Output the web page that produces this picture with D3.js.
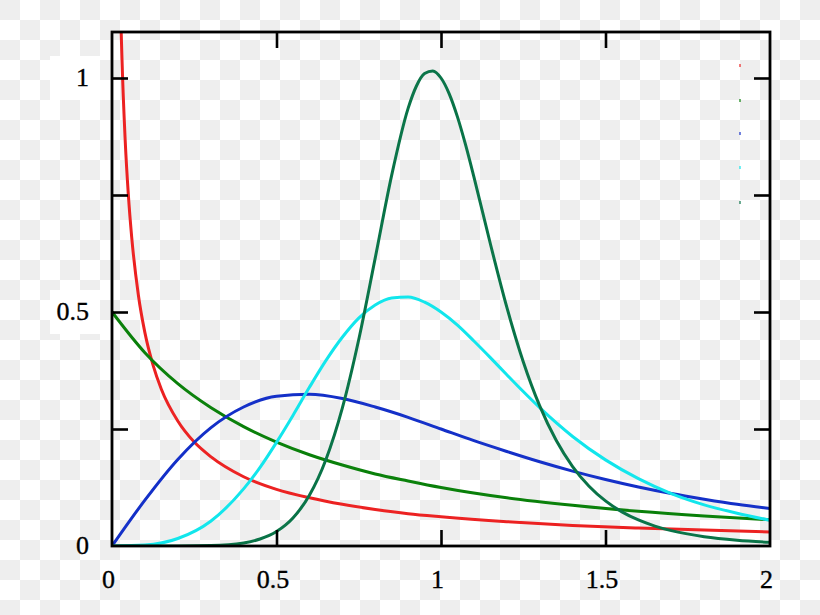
<!DOCTYPE html>
<html><head><meta charset="utf-8">
<script src="https://cdn.jsdelivr.net/npm/d3@7"></script>
<style>html,body{margin:0;padding:0;background:#fff;}svg{display:block;}
text.lbl{font-family:"Liberation Serif","Times New Roman",Times,"DejaVu Serif",serif;font-size:26px;fill:#000;stroke:#000;stroke-width:0.35px;}</style>
</head><body>
<script>
// ---- data ----
const redX   = [0.01,0.02,0.03,0.04,0.05,0.06,0.08,0.1,0.125,0.15,0.2,0.25,0.3,0.4,0.5,0.6,0.7,0.8,0.9,1.0,1.2,1.4,1.6,1.8,2.0];
const redY   = [2.066,1.357,1.049,0.868,0.747,0.659,0.537,0.456,0.386,0.335,0.267,0.222,0.191,0.148,0.121,0.103,0.089,0.078,0.069,0.0625,0.052,0.044,0.0385,0.034,0.030];
const greenX = [0,0.1,0.2,0.3,0.4,0.5,0.6,0.7,0.8,0.9,1.0,1.2,1.4,1.6,1.8,2.0];
const greenY = [0.5,0.413,0.347,0.296,0.255,0.222,0.195,0.173,0.154,0.139,0.125,0.103,0.087,0.074,0.064,0.056];
const blueX  = [0,0.05,0.1,0.2,0.3,0.4,0.5,0.6,0.7,0.8,0.9,1.0,1.1,1.2,1.3,1.4,1.5,1.6,1.7,1.8,1.9,2.0];
const blueY  = [0,0.050,0.098,0.185,0.2525,0.297,0.320,0.324,0.315,0.297,0.275,0.250,0.225,0.202,0.180,0.160,0.142,0.126,0.112,0.100,0.089,0.080];
const cyanX  = [0,0.1,0.2,0.3,0.4,0.45,0.5,0.55,0.6,0.65,0.7,0.75,0.8,0.85,0.9,0.95,1.0,1.05,1.1,1.15,1.2,1.25,1.3,1.4,1.5,1.6,1.7,1.8,1.9,2.0];
const cyanY  = [0,0.002,0.016,0.053,0.122,0.168,0.2215,0.279,0.339,0.396,0.446,0.487,0.515,0.530,0.532,0.521,0.500,0.472,0.438,0.4025,0.366,0.330,0.2955,0.234,0.184,0.144,0.112,0.088,0.070,0.055];
const dgreenX = [0,0.2,0.3,0.4,0.45,0.5,0.55,0.6,0.65,0.7,0.75,0.8,0.85,0.9,0.925,0.95,0.975,1.0,1.025,1.05,1.075,1.1,1.15,1.2,1.25,1.3,1.35,1.4,1.45,1.5,1.55,1.6,1.65,1.7,1.8,1.9,2.0];
const dgreenY = [0,0.00005,0.0009,0.0065,0.0149,0.0310,0.0599,0.1083,0.1842,0.2945,0.4412,0.6151,0.7919,0.9350,0.9824,1.0095,1.0152,1.0,0.9662,0.9170,0.8565,0.7888,0.6458,0.5103,0.3937,0.2993,0.2258,0.1698,0.1278,0.0964,0.0730,0.0556,0.0426,0.0328,0.0198,0.0123,0.0078];

const xTicks = [0, 0.5, 1, 1.5, 2];
const xTickLabels = ["0", "0.5", "1", "1.5", "2"];
const yTicks = [0, 0.25, 0.5, 0.75, 1];
const yTickLabels = ["0", "", "0.5", "", "1"];

const series = [
  {name:"red",    xs:redX,    ys:redY,    color:"#ec2222"},
  {name:"green",  xs:greenX,  ys:greenY,  color:"#0a800a"},
  {name:"blue",   xs:blueX,   ys:blueY,   color:"#1430c8"},
  {name:"cyan",   xs:cyanX,   ys:cyanY,   color:"#12e6ec"},
  {name:"dgreen", xs:dgreenX, ys:dgreenY, color:"#0a7448"}
];

// ---- drawing ----
const W = 820, H = 615;
const L = 112, R = 770, T = 32, B = 546;
const svg = d3.select("body").append("svg").attr("width", W).attr("height", H);

// checkerboard background (transparency pattern)
const defs = svg.append("defs");
const pat = defs.append("pattern").attr("id","chk").attr("width",40).attr("height",40)
  .attr("patternUnits","userSpaceOnUse");
pat.append("rect").attr("width",40).attr("height",40).attr("fill","#ffffff");
pat.append("rect").attr("x",0).attr("y",0).attr("width",20).attr("height",20).attr("fill","#eeeeee");
pat.append("rect").attr("x",20).attr("y",20).attr("width",20).attr("height",20).attr("fill","#eeeeee");
svg.append("rect").attr("width",W).attr("height",H).attr("fill","url(#chk)");

const x = d3.scaleLinear().domain([0, 2]).range([L, R]);
const y = d3.scaleLinear().domain([0, 1]).range([B, 78]);

defs.append("clipPath").attr("id","clip").append("rect")
  .attr("x", L).attr("y", T).attr("width", R - L).attr("height", B - T);

// white patches behind y labels
[[50, 290, 50, 44], [50, 56, 50, 44]].forEach(d => {
  svg.append("rect").attr("x", d[0]).attr("y", d[1]).attr("width", d[2]).attr("height", d[3]).attr("fill", "#fff");
});

const line = d3.line().x(d => x(d[0])).y(d => y(d[1])).curve(d3.curveMonotoneX);
const g = svg.append("g").attr("clip-path", "url(#clip)");
series.forEach(s => {
  g.append("path").datum(s.xs.map((v, i) => [v, s.ys[i]]))
    .attr("d", line).attr("fill", "none").attr("stroke", s.color)
    .attr("stroke-width", 3).attr("stroke-linejoin", "round");
});

// legend remnants (tiny marks)
const legY = [64, 99, 132, 166, 201];
series.forEach((s, i) => {
  svg.append("line").attr("x1", 740).attr("x2", 740)
    .attr("y1", legY[i]).attr("y2", legY[i] + 3)
    .attr("stroke", s.color).attr("stroke-width", 1.2);
});

// axes with inward ticks
const tl = 16;
const axB = d3.axisBottom(x).tickValues(xTicks.slice(1, -1)).tickSize(-tl).tickFormat("");
const axT = d3.axisTop(x).tickValues(xTicks.slice(1, -1)).tickSize(-tl).tickFormat("");
const axL = d3.axisLeft(y).tickValues(yTicks.slice(1)).tickSize(-tl).tickFormat("");
const axRt = d3.axisRight(y).tickValues(yTicks.slice(1)).tickSize(-tl).tickFormat("");
[[axB, `translate(0,${B})`], [axT, `translate(0,${T})`], [axL, `translate(${L},0)`], [axRt, `translate(${R},0)`]]
  .forEach(([ax, tr]) => {
    const a = svg.append("g").attr("transform", tr).call(ax);
    a.select(".domain").remove();
    a.selectAll(".tick line").attr("stroke", "#000").attr("stroke-width", 2.6);
  });

svg.append("rect").attr("x", L).attr("y", T).attr("width", R - L).attr("height", B - T)
  .attr("fill", "none").attr("stroke", "#000").attr("stroke-width", 2.8);

// tick labels
xTicks.forEach((v, i) => {
  svg.append("text").attr("class", "lbl").attr("x", x(v) - 3.5).attr("y", 588)
    .attr("text-anchor", "middle").text(xTickLabels[i]);
});
yTicks.forEach((v, i) => {
  if (!yTickLabels[i]) return;
  svg.append("text").attr("class", "lbl").attr("x", 89).attr("y", y(v) + 8)
    .attr("text-anchor", "end").text(yTickLabels[i]);
});
</script>
</body></html>
